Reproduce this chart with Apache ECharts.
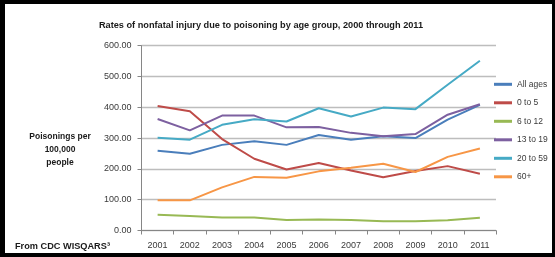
<!DOCTYPE html>
<html><head><meta charset="utf-8">
<style>html,body{margin:0;padding:0;background:#fff;}#c{width:555px;height:257px;}</style>
<script src="https://cdn.jsdelivr.net/npm/echarts@6/dist/echarts.min.js"></script>
</head><body><div id="c"></div>
<script>
const years = ['2001','2002','2003','2004','2005','2006','2007','2008','2009','2010','2011'];
const allAges = [259, 249, 278, 290, 278, 310, 295, 306, 300, 360, 408];
const age0to5 = [404, 387, 297, 233, 198, 219, 195, 173, 193, 209, 184];
const age6to12 = [51, 47, 42, 42, 34, 36, 34, 30, 30, 33, 41];
const age13to19 = [362, 325, 373, 373, 335, 336, 317, 306, 313, 376, 410];
const age20to59 = [301, 295, 343, 361, 354, 397, 370, 399, 394, 473, 551];
const age60plus = [98, 98, 140, 174, 171, 192, 204, 217, 190, 239, 266];
const yTicks = [0, 100, 200, 300, 400, 500, 600];

const seriesDefs = [
  ['All ages', allAges, '#4A7EBB'],
  ['0 to 5', age0to5, '#BE4B48'],
  ['6 to 12', age6to12, '#98B954'],
  ['13 to 19', age13to19, '#7D60A0'],
  ['20 to 59', age20to59, '#46AAC5'],
  ['60+', age60plus, '#F79646']
];
const F = 'Liberation Sans, Arial, sans-serif';
const chart = echarts.init(document.getElementById('c'), null, {renderer:'canvas'});
chart.setOption({
  animation: false,
  backgroundColor: '#fff',
  grid: {left: 141.5, right: 59, top: 45.7, bottom: 26.5, containLabel: false},
  xAxis: {
    type: 'category', data: years, boundaryGap: true,
    axisLine: {lineStyle: {color: '#868686', width: 1}},
    axisTick: {show: true, length: 4, lineStyle: {color: '#868686'}},
    axisLabel: {color: '#3a3a3a', fontFamily: F, fontSize: 9, margin: 11}
  },
  yAxis: {
    type: 'value', min: yTicks[0], max: yTicks[yTicks.length-1], interval: 100,
    axisLine: {show: true, lineStyle: {color: '#868686', width: 1}},
    axisTick: {show: true, length: 4, lineStyle: {color: '#868686'}},
    splitLine: {lineStyle: {color: '#bdbdbd', width: 1.3}},
    axisLabel: {color: '#3a3a3a', fontFamily: F, fontSize: 9, margin: 10,
      formatter: v => v.toFixed(2)}
  },
  legend: {
    orient: 'vertical', left: 494, top: 78.8, padding: 0, itemWidth: 18, itemHeight: 3, itemGap: 7.5,
    icon: 'rect',
    textStyle: {color: '#3a3a3a', fontFamily: F, fontSize: 8.5, lineHeight: 11},
    data: seriesDefs.map(d => d[0])
  },
  series: seriesDefs.map(d => ({
    name: d[0], type: 'line', data: d[1], showSymbol: false, symbol: 'none',
    lineStyle: {color: d[2], width: 2}, itemStyle: {color: d[2]}
  })),
  graphic: [
    {type: 'text', style: {text: 'Rates of nonfatal injury due to poisoning by age group, 2000 through 2011',
      x: 261, y: 25, textAlign: 'center', textVerticalAlign: 'middle', fill: '#1a1a1a', font: 'bold 9.2px ' + F}},
    {type: 'text', style: {text: 'Poisonings per', x: 60, y: 137, textAlign: 'center', textVerticalAlign: 'middle',
      fill: '#1a1a1a', font: 'bold 8.5px ' + F}},
    {type: 'text', style: {text: '100,000', x: 60, y: 150, textAlign: 'center', textVerticalAlign: 'middle',
      fill: '#1a1a1a', font: 'bold 8.5px ' + F}},
    {type: 'text', style: {text: 'people', x: 60, y: 163, textAlign: 'center', textVerticalAlign: 'middle',
      fill: '#1a1a1a', font: 'bold 8.5px ' + F}},
    {type: 'text', style: {text: 'From CDC WISQARS\u00b3', x: 15, y: 246, textVerticalAlign: 'middle',
      fill: '#1a1a1a', font: 'bold 9.2px ' + F}},
    {type: 'rect', left: 0, top: 0, shape: {width: 555, height: 4}, style: {fill: '#000'}},
    {type: 'rect', left: 0, top: 0, shape: {width: 5, height: 257}, style: {fill: '#000'}},
    {type: 'rect', left: 0, top: 253, shape: {width: 555, height: 4}, style: {fill: '#000'}},
    {type: 'rect', left: 552, top: 0, shape: {width: 3, height: 257}, style: {fill: '#000'}}
  ]
});
</script></body></html>
